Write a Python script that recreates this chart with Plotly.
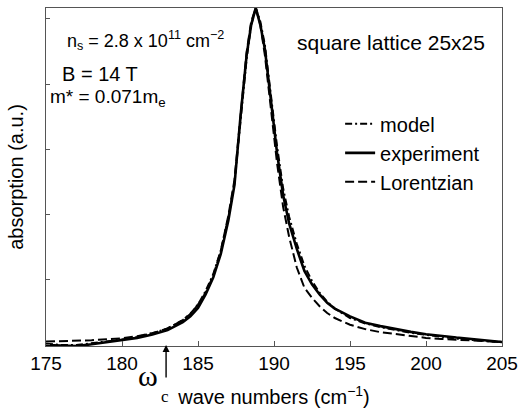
import plotly.graph_objects as go

# wave numbers (cm^-1)
wavenumber = [175, 176, 177, 178, 179, 180, 181, 182, 183, 184, 184.5, 185, 185.5,
              186, 186.5, 187, 187.4, 187.8, 188.2, 188.5, 188.8, 189.1, 189.4,
              189.8, 190.2, 190.6, 191, 191.5, 192, 192.5, 193, 193.5, 194, 195,
              196, 197, 198, 199, 200, 201, 202, 203, 204, 205]

experiment = [0.000, -0.002, -0.003, 0.002, 0.008, 0.013, 0.021, 0.031, 0.044, 0.068,
              0.085, 0.110, 0.150, 0.200, 0.270, 0.370, 0.475, 0.680, 0.860, 0.950,
              1.000, 0.950, 0.878, 0.725, 0.570, 0.445, 0.360, 0.285, 0.220, 0.180,
              0.150, 0.125, 0.108, 0.085, 0.066, 0.056, 0.047, 0.039, 0.032, 0.026,
              0.022, 0.018, 0.014, 0.009]

model = [0.004, 0.000, 0.000, 0.005, 0.010, 0.016, 0.024, 0.035, 0.049, 0.074,
         0.093, 0.120, 0.160, 0.210, 0.280, 0.380, 0.480, 0.670, 0.850, 0.950,
         1.000, 0.960, 0.890, 0.740, 0.590, 0.465, 0.380, 0.300, 0.235, 0.190,
         0.155, 0.128, 0.108, 0.080, 0.064, 0.053, 0.044, 0.036, 0.030, 0.024,
         0.019, 0.015, 0.012, 0.008]

lorentzian = [0.010, 0.011, 0.012, 0.014, 0.017, 0.020, 0.026, 0.035, 0.049, 0.074,
              0.092, 0.120, 0.155, 0.205, 0.280, 0.385, 0.490, 0.690, 0.870, 0.960,
              1.000, 0.950, 0.860, 0.700, 0.540, 0.410, 0.320, 0.230, 0.170, 0.140,
              0.115, 0.095, 0.080, 0.060, 0.047, 0.038, 0.032, 0.026, 0.021, 0.018,
              0.016, 0.014, 0.011, 0.009]

x_ticks = [175, 180, 185, 190, 195, 200, 205]
omega_c = 182.9

FONT = "Liberation Sans, Arial, Helvetica, sans-serif"
SERIF = "Liberation Serif, Times New Roman, serif"

fig = go.Figure()
fig.add_trace(go.Scatter(x=wavenumber, y=model, mode="lines", name="model",
                         line=dict(color="black", width=2, dash="7px,3px,2px,3px")))
fig.add_trace(go.Scatter(x=wavenumber, y=experiment, mode="lines", name="experiment",
                         line=dict(color="black", width=2.6)))
fig.add_trace(go.Scatter(x=wavenumber, y=lorentzian, mode="lines", name="Lorentzian",
                         line=dict(color="black", width=2, dash="9px,4px")))

fig.update_layout(
    width=525, height=412,
    margin=dict(l=46, r=20, t=7, b=61),
    paper_bgcolor="white", plot_bgcolor="white",
    font=dict(family=FONT, size=20, color="black"),
    showlegend=True,
    legend=dict(x=0.645, y=0.715, xanchor="left", yanchor="top",
                bgcolor="rgba(0,0,0,0)", font=dict(size=20), tracegroupgap=0),
)
fig.update_xaxes(range=[175, 205], tickvals=x_ticks, ticks="inside", ticklen=5,
                 tickcolor="#555", showline=True, linecolor="#555", linewidth=1,
                 mirror=True, showgrid=False, zeroline=False,
                 tickfont=dict(size=19),
                 title=dict(text="wave numbers (cm<sup>−1</sup>)", font=dict(size=20), standoff=17))
fig.update_yaxes(range=[-0.003, 1.0], tick0=0, dtick=0.1935, ticks="inside", ticklen=4,
                 tickcolor="#555", showticklabels=False, showline=True, linecolor="#555",
                 linewidth=1, mirror=True, showgrid=False, zeroline=False,
                 title=dict(text="absorption (a.u.)", font=dict(size=20), standoff=16))

ann = [
    dict(text="n<sub>s</sub> = 2.8 x 10<sup>11</sup> cm<sup>−2</sup>", x=0.041, y=0.904, size=18),
    dict(text="B = 14 T", x=0.0305, y=0.805, size=20),
    dict(text="m* = 0.071m<sub>e</sub>", x=0.004, y=0.735, size=19),
    dict(text="square lattice 25x25", x=0.547, y=0.898, size=21),
]
for a in ann:
    fig.add_annotation(xref="paper", yref="paper", xanchor="left", yanchor="middle",
                       showarrow=False, text=a["text"], x=a["x"], y=a["y"],
                       font=dict(size=a["size"]))

fig.add_annotation(x=omega_c, y=0, xref="x", yref="y", text="", showarrow=True,
                   ax=0, ay=34, arrowhead=2, arrowsize=1, arrowwidth=1.4, arrowcolor="black")
fig.add_annotation(x=181.72, y=-0.088, xref="x", yref="paper", text="ω", showarrow=False,
                   font=dict(family=SERIF, size=30), xanchor="center", yanchor="middle",
                   borderpad=0)
fig.add_annotation(x=182.8, y=-0.15, xref="x", yref="paper", text="c", showarrow=False,
                   font=dict(family=SERIF, size=17), xanchor="center", yanchor="middle",
                   borderpad=0)

fig.write_html("out.html", config={"displayModeBar": False},
               post_script="document.body.style.margin='0';document.body.style.overflow='hidden';")
